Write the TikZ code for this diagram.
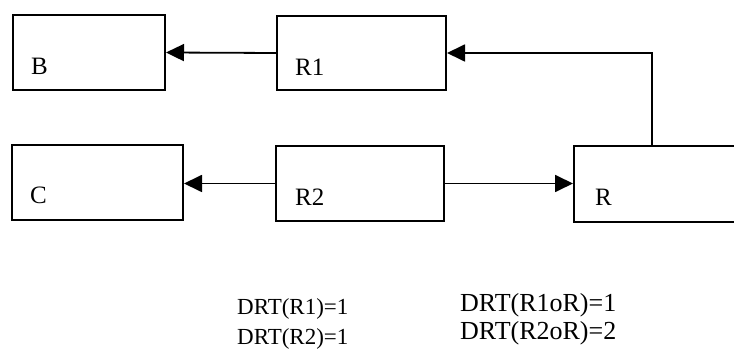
\documentclass[tikz,border=0pt]{standalone}
\usepackage{fontspec}
\setmainfont{Liberation Serif}
\usetikzlibrary{arrows.meta}
\tikzset{
    blk/.style={draw, line width=2pt, rectangle, inner sep=0},
    lbl/.style={anchor=base west, inner sep=0, font=\fontsize{25}{26}\selectfont},
    arr/.style={line width=1.8pt, -{Triangle[length=18pt,width=17pt]}},
    drt/.style={anchor=base west, inner sep=0, align=left, font=\fontsize{23}{31}\selectfont}
}
\begin{document}
\begin{tikzpicture}[x=1pt, y=-1pt]
    \useasboundingbox (0, 0) rectangle (734, 355);
    % blocks
    \node[blk, minimum width=152pt, minimum height=75pt, anchor=north west] (B) at (12, 14) {};
    \node[blk, minimum width=169pt, minimum height=74pt, anchor=north west] (R1) at (276, 15) {};
    \node[blk, minimum width=171pt, minimum height=75pt, anchor=north west] (C) at (11, 144) {};
    \node[blk, minimum width=168pt, minimum height=75pt, anchor=north west] (R2) at (275, 145) {};
    \node[blk, minimum width=170pt, minimum height=76pt, anchor=north west] (R) at (573, 145) {};
    \node[lbl] (tB) at (31, 75) {B};
    \node[lbl] (tR1) at (295, 76) {R1};
    \node[lbl] (tC) at (30, 204) {C};
    \node[lbl] (tR2) at (295, 206) {R2};
    \node[lbl] (tR) at (595, 206) {R};
    % links
    \draw[arr] (R1.west) -- (B.east);
    \draw[arr] (R2.west) -- (R2.west -| C.east);
    \draw[arr] (R2.east) -- (R2.east -| R.west);
    \draw[arr] ([xshift=-7pt]R.north) |- (R1.east);
    % degrees
    \node[drt] (d1) at (237, 345) {DRT(R1)=1\\DRT(R2)=1};
    \node[drt, font=\fontsize{26}{28}\selectfont] (d2) at (460, 340) {DRT(R1oR)=1\\DRT(R2oR)=2};
\end{tikzpicture}
\end{document}
